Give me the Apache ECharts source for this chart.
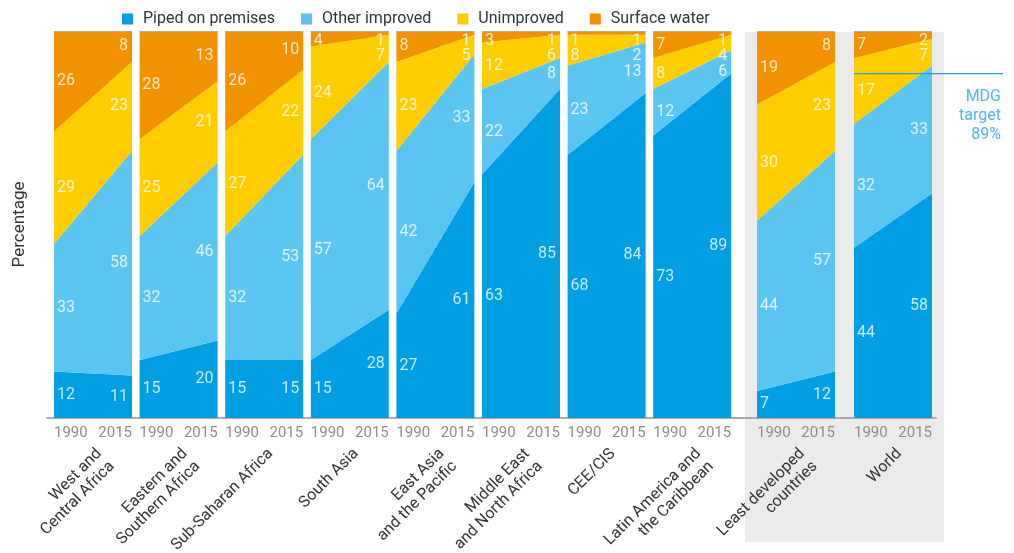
<!DOCTYPE html>
<html>
<head>
<meta charset="utf-8">
<script src="https://cdn.jsdelivr.net/npm/echarts@6/dist/echarts.min.js"></script>
<style>
html,body{margin:0;padding:0;background:#fff}
#chart{width:1014px;height:553px}
</style>
</head>
<body>
<div id="chart"></div>
<script>
var regions = ['West and\nCentral Africa', 'Eastern and\nSouthern Africa', 'Sub-Saharan Africa', 'South Asia',
  'East Asia\nand the Pacific', 'Middle East\nand North Africa', 'CEE/CIS', 'Latin America and\nthe Caribbean',
  'Least developed\ncountries', 'World'];
var years = ['1990', '2015'];
var layers = ['Piped on premises', 'Other improved', 'Unimproved', 'Surface water'];
var layerColors = ['#009fe3', '#5bc5f2', '#ffcd00', '#f39200'];
// [1990, 2015] per region
var piped = [[12, 11], [15, 20], [15, 15], [15, 28], [27, 61], [63, 85], [68, 84], [73, 89], [7, 12], [44, 58]];
var otherImproved = [[33, 58], [32, 46], [32, 53], [57, 64], [42, 33], [22, 8], [23, 13], [12, 6], [44, 57], [32, 33]];
var unimproved = [[29, 23], [25, 21], [27, 22], [24, 7], [23, 5], [12, 6], [8, 2], [8, 4], [30, 23], [17, 7]];
var surfaceWater = [[26, 8], [28, 13], [26, 10], [4, 1], [8, 1], [3, 1], [1, 1], [7, 1], [19, 8], [7, 2]];
var mdgTarget = 89;

var chart = echarts.init(document.getElementById('chart'));
var font = 'Roboto, "Liberation Sans", sans-serif';
var layerData = [piped, otherImproved, unimproved, surfaceWater];
var panelLeft = [54, 139.6, 225.2, 310.8, 396.4, 482, 567.6, 653.2, 757, 854];
var panelW = 78, panelTop = 31, panelH = 387;

var grid = [], xAxis = [], yAxis = [], series = [];

// label positions: middle of each band, pushed down when they would collide
function labelPositions(r, y) {
  var out = [];
  var cum = 0, mids = [];
  for (var k = 0; k < 4; k++) {
    var v = layerData[k][r][y];
    mids.push(cum + v / 2);
    cum += v;
  }
  var prev = 101.5;
  for (var k = 3; k >= 0; k--) {
    var p = Math.min(mids[k], prev - 4);
    out[k] = p;
    prev = p;
  }
  return out;
}

regions.forEach(function (name, i) {
  grid.push({ left: panelLeft[i], top: panelTop, width: panelW, height: panelH, outerBoundsMode: 'none', containLabel: false });
  xAxis.push({
    type: 'category', gridIndex: i, data: years, boundaryGap: false, position: 'bottom',
    axisLine: { show: false }, axisTick: { show: false },
    axisLabel: { interval: 0, color: '#8c8c8c', fontSize: 15, fontFamily: font, margin: 8,
      alignMinLabel: 'left', alignMaxLabel: 'right' }
  });
  xAxis.push({
    type: 'category', gridIndex: i, data: [name], boundaryGap: true, position: 'bottom',
    axisLine: { show: false }, axisTick: { show: false },
    axisLabel: { interval: 0, rotate: 45, align: 'right', verticalAlign: 'top', margin: 27,
      color: '#333', fontSize: 16, lineHeight: 18, fontFamily: font }
  });
  yAxis.push({
    type: 'value', gridIndex: i, min: 0, max: 100, show: i === 0,
    axisLine: { show: false }, axisTick: { show: false }, axisLabel: { show: false }, splitLine: { show: false },
    name: i === 0 ? 'Percentage' : '', nameLocation: 'middle', nameGap: 26,
    nameTextStyle: { color: '#333', fontSize: 17, fontFamily: font }
  });
  layers.forEach(function (lname, k) {
    var s = {
      name: lname, type: 'line', stack: 'g' + i, xAxisIndex: 2 * i, yAxisIndex: i,
      symbol: 'none', silent: true,
      lineStyle: { width: 0 }, itemStyle: { color: layerColors[k] },
      areaStyle: { color: layerColors[k], opacity: 1 },
      data: [layerData[k][i][0], layerData[k][i][1]]
    };
    if (k === 3) {
      s.markLine = { silent: true, symbol: 'none', label: { show: false },
        lineStyle: { color: '#aaa', width: 1, type: 'solid' }, data: [{ yAxis: 100 }] };
    }
    series.push(s);
  });
  var pts = [];
  [0, 1].forEach(function (y) {
    var pos = labelPositions(i, y);
    for (var k = 0; k < 4; k++) {
      pts.push({
        value: [y, pos[k], layerData[k][i][y]],
        label: { position: y === 0 ? 'right' : 'left', distance: y === 0 ? 3 : 4 }
      });
    }
  });
  series.push({
    type: 'scatter', name: 'labels', xAxisIndex: 2 * i, yAxisIndex: i, symbolSize: 0, silent: true, z: 5,
    label: { show: true, color: '#fff', fontSize: 16, fontFamily: font,
      formatter: function (p) { return p.value[2]; } },
    data: pts
  });
});

// baseline across all panels
grid.push({ left: 47, top: panelTop, width: 889, height: panelH, outerBoundsMode: 'none', containLabel: false });
xAxis.push({ type: 'value', gridIndex: 10, min: 0, max: 1, axisLine: { show: true, lineStyle: { color: '#aaa', width: 2 } },
  axisTick: { show: false }, axisLabel: { show: false }, splitLine: { show: false } });
yAxis.push({ type: 'value', gridIndex: 10, show: false });

var option = {
  animation: false,
  textStyle: { fontFamily: font },
  legend: {
    left: 117, top: 6, itemWidth: 11, itemHeight: 11, itemGap: 26,
    textStyle: { color: '#333', fontSize: 16, fontFamily: font, padding: [0, 0, 0, 5] },
    data: layers.map(function (l, k) { return { name: l, icon: 'rect', itemStyle: { color: layerColors[k] } }; })
  },
  grid: grid,
  xAxis: xAxis,
  yAxis: yAxis,
  series: series,
  graphic: [{ id: 'bg', type: 'rect', z: -10, silent: true,
    shape: { x: 745, y: 32, width: 199, height: 510 }, style: { fill: '#ebebeb' } }]
};
chart.setOption(option);

// MDG target line on the World panel
var yPix = chart.convertToPixel({ xAxisIndex: 18, yAxisIndex: 9 }, [1, mdgTarget])[1];
chart.setOption({
  graphic: [
    { id: 'mdgLine', type: 'line', z: 100, silent: true,
      shape: { x1: panelLeft[9], y1: yPix, x2: 1003, y2: yPix },
      style: { stroke: '#2a9ad6', lineWidth: 1.2 } },
    { id: 'mdgText', type: 'text', z: 100, silent: true, x: 1001, y: yPix + 14,
      style: { text: 'MDG\ntarget\n' + mdgTarget + '%', align: 'right', verticalAlign: 'top',
        fill: '#4db8e8', fontSize: 16, lineHeight: 19, fontFamily: font } }
  ]
});
</script>
</body>
</html>
